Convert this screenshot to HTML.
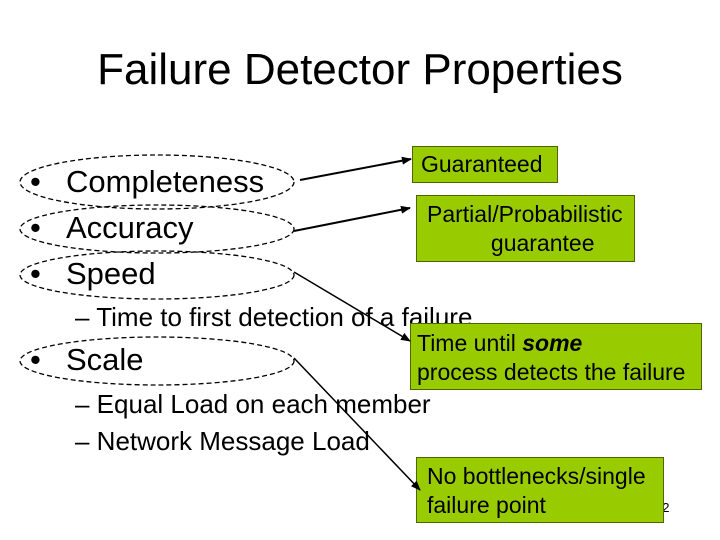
<!DOCTYPE html>
<html><head><style>
body{margin:0;width:720px;height:540px;background:#fff;position:relative;overflow:hidden;font-family:"Liberation Sans",sans-serif;}
.t{position:absolute;white-space:nowrap;color:#000;}
.b{position:absolute;white-space:nowrap;font-size:31px;}
.b span{position:absolute;left:0;}
.box{position:absolute;background:#99cc00;border:1px solid #4d6600;font-size:23px;line-height:29px;padding:2px 6px;box-sizing:border-box;white-space:nowrap;overflow:visible;}
</style></head><body>
<div class="t" style="left:0;width:720px;text-align:center;top:45px;font-size:44px;">Failure Detector Properties</div>
<div class="t" style="left:30px;top:164px;font-size:31px;">•</div><div class="t" style="left:66px;top:164px;font-size:31px;">Completeness</div>
<div class="t" style="left:30px;top:210px;font-size:31px;">•</div><div class="t" style="left:66px;top:210px;font-size:31px;">Accuracy</div>
<div class="t" style="left:30px;top:256px;font-size:31px;">•</div><div class="t" style="left:66px;top:256px;font-size:31px;">Speed</div>
<div class="t" style="left:75px;top:302px;font-size:26px;">– Time to first detection of a failure</div>
<div class="t" style="left:30px;top:342px;font-size:31px;">•</div><div class="t" style="left:66px;top:342px;font-size:31px;">Scale</div>
<div class="t" style="left:75px;top:389px;font-size:26px;">– Equal Load on each member</div>
<div class="t" style="left:75px;top:426px;font-size:26px;">– Network Message Load</div>
<div class="t" style="left:655px;top:500px;font-size:13px;">12</div>
<div class="box" style="left:412px;top:146px;width:146px;height:37px;padding-top:3px;padding-left:8px;">Guaranteed</div>
<div class="box" style="left:416px;top:195px;width:219px;height:67px;padding-top:4px;padding-left:10px;">Partial/Probabilistic<br>&nbsp;&nbsp;&nbsp;&nbsp;&nbsp;&nbsp;&nbsp;&nbsp;&nbsp;&nbsp;guarantee</div>
<div class="box" style="left:410px;top:323px;width:292px;height:67px;padding-top:5px;padding-left:6px;">Time until <b><i>some</i></b><br>process detects the failure</div>
<div class="box" style="left:416px;top:457px;width:248px;height:66px;padding-top:4px;padding-left:10px;">No bottlenecks/single<br>failure point</div>
<svg width="720" height="540" style="position:absolute;left:0;top:0">
<defs><marker id="a" markerWidth="10" markerHeight="8" refX="9" refY="4" orient="auto" markerUnits="userSpaceOnUse"><path d="M0,0 L10,4 L0,8 z" fill="#000"/></marker></defs>
<g fill="none" stroke="#000" stroke-width="1.3" stroke-dasharray="5,3">
<ellipse cx="157" cy="182" rx="137" ry="27"/>
<ellipse cx="157" cy="229" rx="137" ry="24"/>
<ellipse cx="157" cy="275" rx="137" ry="24"/>
<ellipse cx="157" cy="361" rx="137" ry="24"/>
</g>
<g stroke="#000" stroke-width="2" marker-end="url(#a)">
<line x1="300" y1="180" x2="411" y2="159"/>
<line x1="294" y1="231" x2="410" y2="208"/>
</g>
<g stroke="#000" stroke-width="1.5" marker-end="url(#a)">
<line x1="294" y1="272" x2="410" y2="341"/>
<line x1="294" y1="358" x2="420" y2="490"/>
</g>
</svg>
</body></html>
